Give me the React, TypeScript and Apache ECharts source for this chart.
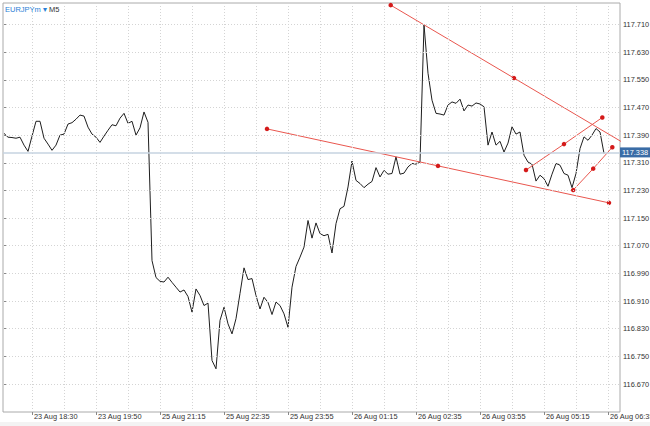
import React, { useEffect, useRef } from "react";
import * as echarts from "echarts";

// ---- data (M5 bars, index = bar number from the left edge) ----
const priceValues: number[] = [
  117.395, 117.384, 117.383, 117.381, 117.384, 117.361, 117.343, 117.387, 117.43, 117.43,
  117.381, 117.364, 117.346, 117.361, 117.39, 117.393, 117.422, 117.426, 117.436, 117.448,
  117.445, 117.413, 117.393, 117.384, 117.369, 117.387, 117.404, 117.42, 117.417, 117.439,
  117.453, 117.424, 117.43, 117.39, 117.411, 117.457, 117.427, 117.027, 116.978, 116.967,
  116.965, 116.979, 116.964, 116.95, 116.936, 116.942, 116.923, 116.878, 116.945, 116.926,
  116.897, 116.904, 116.738, 116.714, 116.854, 116.892, 116.844, 116.815, 116.859, 116.932,
  117.006, 116.972, 116.975, 116.926, 116.887, 116.921, 116.906, 116.871, 116.907, 116.897,
  116.873, 116.834, 116.95, 117.01, 117.037, 117.066, 117.143, 117.092, 117.136, 117.105,
  117.099, 117.103, 117.049, 117.134, 117.177, 117.184, 117.24, 117.315, 117.259, 117.25,
  117.238, 117.248, 117.256, 117.296, 117.269, 117.288, 117.277, 117.279, 117.327, 117.277,
  117.28, 117.298, 117.308, 117.306, 117.312, 117.709, 117.569, 117.491, 117.453, 117.451,
  117.448, 117.477, 117.486, 117.482, 117.494, 117.46, 117.477, 117.474, 117.483, 117.48,
  117.472, 117.361, 117.399, 117.361, 117.372, 117.341, 117.367, 117.414, 117.393, 117.399,
  117.332, 117.312, 117.306, 117.257, 117.274, 117.264, 117.242, 117.277, 117.308, 117.303,
  117.279, 117.274, 117.238, 117.279, 117.351, 117.385, 117.375, 117.39, 117.409, 117.399,
  117.337,
];

const currentPrice = 117.338;

const timeLabels: string[] = [
  "23 Aug 18:30", "23 Aug 19:50", "25 Aug 21:15", "25 Aug 22:35", "25 Aug 23:55",
  "26 Aug 01:15", "26 Aug 02:35", "26 Aug 03:55", "26 Aug 05:15", "26 Aug 06:35",
];
const labelBars: number[] = [7, 23, 39, 55, 71, 87, 103, 119, 135, 151];
const gridBars: number[] = [7, 15, 23, 31, 39, 47, 55, 63, 71, 79, 87, 95, 103, 111, 119, 127, 135, 143, 151];

const priceTicks: number[] = [
  116.67, 116.75, 116.83, 116.91, 116.99, 117.07, 117.15, 117.23, 117.31, 117.39,
  117.47, 117.55, 117.63, 117.71,
];

// trend lines: [bar, price] for start, middle, end anchors
const trendA: number[][] = [[96.68, 117.766], [127.5, 117.555], [158.3, 117.344]];
const trendB: number[][] = [[65.75, 117.408], [108.5, 117.301], [151.25, 117.194]];
const trendC: number[][] = [[130.5, 117.289], [140.0, 117.364], [149.58, 117.441]];
const trendD: number[][] = [[142.3, 117.231], [147.3, 117.293], [152.08, 117.355]];

const FONT = "'Liberation Sans', Arial, sans-serif";

export default function App() {
  const ref = useRef<HTMLDivElement>(null);

  useEffect(() => {
    if (!ref.current) return;
    const chart = echarts.init(ref.current, undefined, { renderer: "svg" });

    const priceData = priceValues.map((v, i) => [i, v]);
    const trendSeries = [trendA, trendB, trendC, trendD].map((d, k) => ({
      type: "line",
      name: "trend" + k,
      data: d,
      clip: true,
      z: 4,
      symbol: "circle",
      symbolSize: 4.5,
      showAllSymbol: true,
      itemStyle: { color: "#d41a1a" },
      lineStyle: { color: "#e9564e", width: 1 },
      silent: true,
    }));

    const option: any = {
      animation: false,
      backgroundColor: "#ffffff",
      textStyle: { fontFamily: FONT },
      title: {
        left: 5,
        top: 5,
        padding: 0,
        text: "{a|EURJPYm ▾} {b|M5}",
        textStyle: {
          fontFamily: FONT,
          fontWeight: "normal",
          fontSize: 7.5,
          rich: {
            a: { color: "#2a7fd6", fontSize: 7.5, fontWeight: "normal", fontFamily: FONT },
            b: { color: "#333333", fontSize: 7.5, fontWeight: "normal", fontFamily: FONT },
          },
        },
      },
      graphic: [
        {
          type: "rect",
          shape: { x: 0, y: 422, width: 650, height: 4 },
          style: { fill: "#f3f3f3" },
          silent: true,
        },
      ],
      grid: {
        left: 3,
        right: 30,
        top: 3,
        bottom: 14,
        containLabel: false,
        outerBoundsMode: "none",
        show: true,
        borderColor: "#aaaaaa",
        borderWidth: 1,
        backgroundColor: "#ffffff",
      },
      xAxis: {
        type: "value",
        min: -0.25,
        max: 154,
        position: "bottom",
        axisLine: { show: false },
        splitLine: { show: false },
        axisTick: {
          show: true,
          length: 3,
          customValues: labelBars,
          lineStyle: { color: "#888888" },
        },
        axisLabel: {
          customValues: labelBars,
          formatter: (v: number) => {
            const k = labelBars.indexOf(Math.round(v));
            return k >= 0 ? timeLabels[k] : "";
          },
          align: "left",
          padding: [0, 0, 0, 2],
          margin: 0,
          lineHeight: 8,
          fontSize: 7.4,
          color: "#333333",
          fontFamily: FONT,
          hideOverlap: false,
        },
      },
      yAxis: {
        type: "value",
        position: "right",
        min: 116.589,
        max: 117.7722,
        scale: true,
        axisLine: { show: false },
        splitLine: { show: false },
        axisTick: {
          show: true,
          length: 3,
          customValues: priceTicks,
          lineStyle: { color: "#888888" },
        },
        axisLabel: {
          customValues: priceTicks,
          formatter: (v: number) => v.toFixed(3),
          margin: 3,
          fontSize: 7.4,
          color: "#333333",
          fontFamily: FONT,
        },
      },
      series: [
        {
          type: "line",
          name: "grid",
          data: priceData,
          z: 1,
          symbol: "none",
          silent: true,
          lineStyle: { opacity: 0 },
          markLine: {
            silent: true,
            symbol: ["none", "none"],
            label: { show: false },
            lineStyle: { color: "#d4d4d4", width: 1, type: [1, 2] },
            data: [
              ...gridBars.map((b) => ({ xAxis: b })),
              ...priceTicks.map((p) => ({ yAxis: p })),
            ],
          },
        },
        {
          type: "line",
          name: "current",
          data: [],
          z: 2,
          symbol: "none",
          markLine: {
            silent: true,
            symbol: ["none", "none"],
            lineStyle: { color: "#c6d3e0", width: 1.5, type: "solid" },
            label: {
              show: true,
              position: "end",
              distance: 0,
              formatter: currentPrice.toFixed(3),
              backgroundColor: "#3a6ca6",
              color: "#ffffff",
              fontSize: 7.4,
              fontFamily: FONT,
              padding: [2, 2, 1, 2],
            },
            data: [{ yAxis: currentPrice }],
          },
        },
        {
          type: "line",
          name: "EURJPYm",
          data: priceData,
          z: 3,
          symbol: "none",
          silent: true,
          lineStyle: { color: "#1e1e1e", width: 1 },
        },
        ...trendSeries,
      ],
    };

    chart.setOption(option);
    return () => chart.dispose();
  }, []);

  return (
    <div
      ref={ref}
      style={{ position: "fixed", left: 0, top: 0, width: 650, height: 426 }}
    />
  );
}
